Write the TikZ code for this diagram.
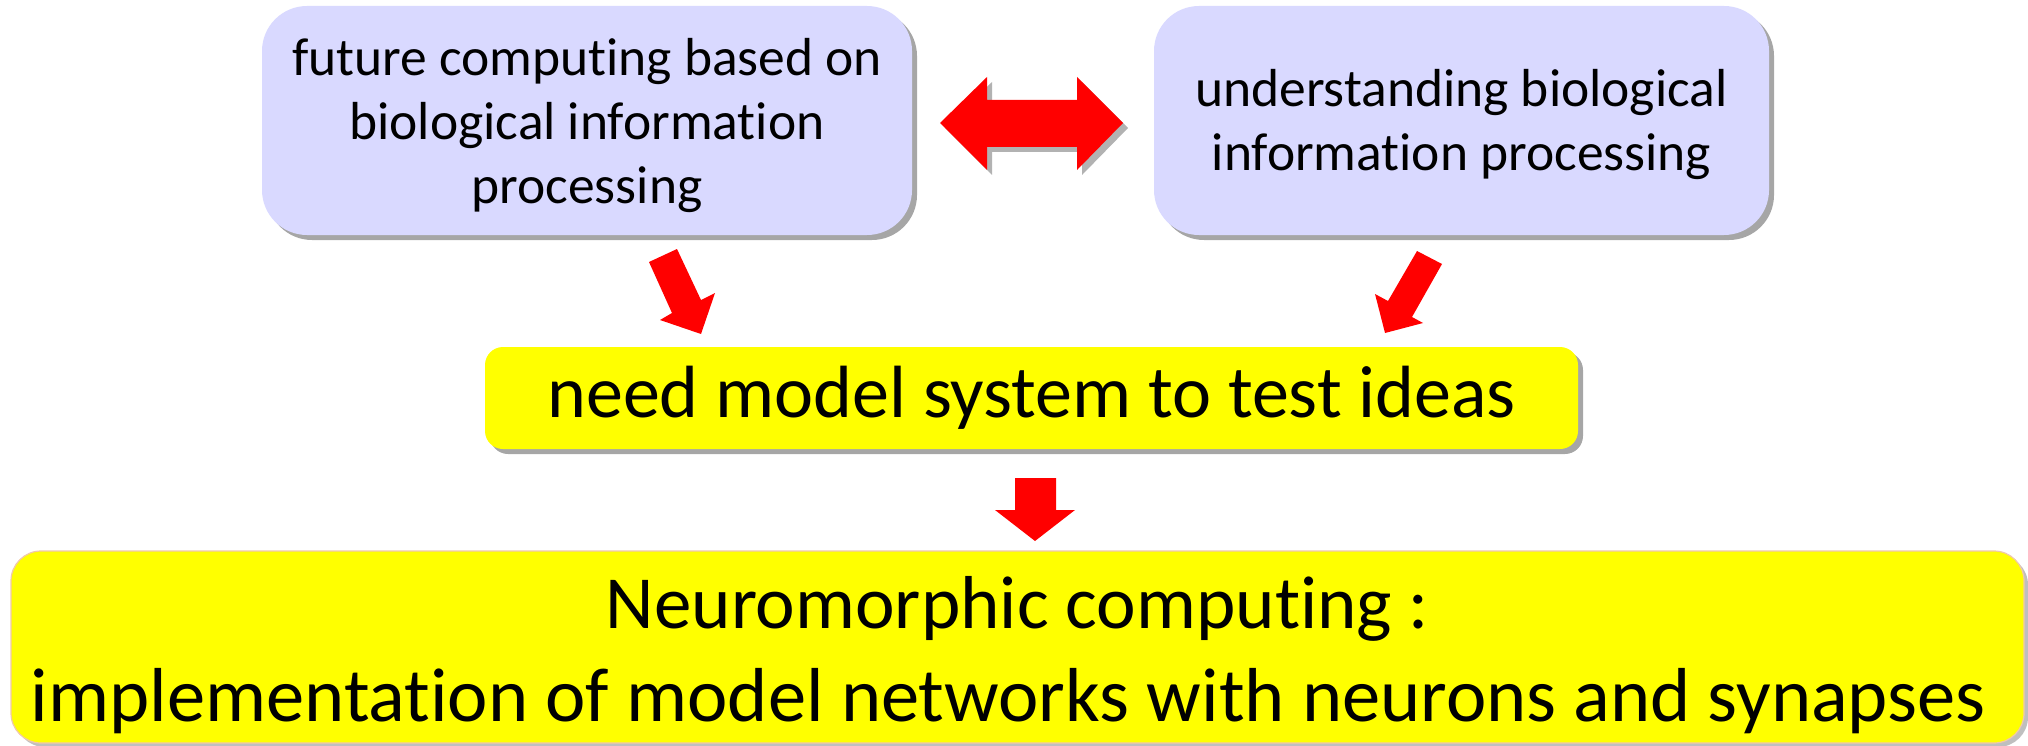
\documentclass[tikz,border=0pt]{standalone}
\usepackage{fontspec}
\setmainfont[Ligatures={NoCommon}]{Carlito}
\usetikzlibrary{shadows}
\definecolor{lav}{RGB}{217,217,255}
\definecolor{yel}{RGB}{255,255,0}
\definecolor{arr}{RGB}{255,0,0}
\definecolor{peach}{RGB}{240,200,170}
\tikzset{
  topbox/.style={rectangle, rounded corners=45pt, fill=lav,
    drop shadow={shadow xshift=5pt, shadow yshift=-5pt, opacity=0.35, fill=black}},
  toptext/.style={align=center, inner sep=0pt, font=\fontsize{53.5}{64}\selectfont},
  midbox/.style={rectangle, rounded corners=18pt, fill=yel, align=center,
    font=\fontsize{74}{80}\selectfont,
    drop shadow={shadow xshift=5pt, shadow yshift=-5pt, opacity=0.35, fill=black}},
  botbox/.style={rectangle, rounded corners=30pt, fill=yel, draw=peach, line width=1.2pt,
    drop shadow={shadow xshift=4pt, shadow yshift=-4pt, opacity=0.25, fill=black}},
  bottext/.style={align=center, inner sep=0pt, font=\fontsize{75}{93}\selectfont},
  blockarrow/.style={fill=arr, draw=none},
}
\begin{document}
\begin{tikzpicture}[x=1pt,y=-1pt]
\useasboundingbox (0,0) rectangle (2028,746);
\node[topbox, minimum width=650pt, minimum height=229pt] (fut) at (587,120.5) {};
\node[toptext] (futtext) at ([yshift=-5pt]fut.center)
  {future computing based on\\biological information\\processing};
\node[topbox, minimum width=615pt, minimum height=229pt] (und) at (1461.5,120.5) {};
\node[toptext] (undtext) at ([yshift=-4pt]und.center)
  {understanding biological\\information processing};
\node[midbox, minimum width=1093pt, minimum height=102pt] (need) at (1031.5,398)
  {need model system to test ideas};
\node[botbox, minimum width=2013pt, minimum height=192pt] (neuro) at (1017.5,647) {};
\node[bottext] (neurotext) at ([yshift=-8pt]neuro.center)
  {Neuromorphic computing :\\{\fontsize{76.5}{93}\selectfont implementation of model networks with neurons and synapses}\hspace*{18pt}};
% double arrow between top boxes
\fill[arr, drop shadow={shadow xshift=5pt, shadow yshift=-5pt, opacity=0.3, fill=black}]
  (940,123) -- (987,77) -- (987,100) -- (1077,100) -- (1077,77) -- (1123,123)
  -- (1077,170) -- (1077,147) -- (987,147) -- (987,170) -- cycle;
% left down arrow
\fill[blockarrow] (649,262) -- (677,249) -- (701,300) -- (715,293) -- (701,334)
  -- (660,320) -- (672,313) -- cycle;
% right down arrow
\fill[blockarrow] (1417,251) -- (1442,264) -- (1412,317) -- (1423,323) -- (1385,333)
  -- (1375,294) -- (1388,301) -- cycle;
% middle down arrow
\fill[blockarrow] (1015,478) -- (1056,478) -- (1056,510) -- (1075,510) -- (1035,541)
  -- (995,510) -- (1015,510) -- cycle;
\end{tikzpicture}
\end{document}
